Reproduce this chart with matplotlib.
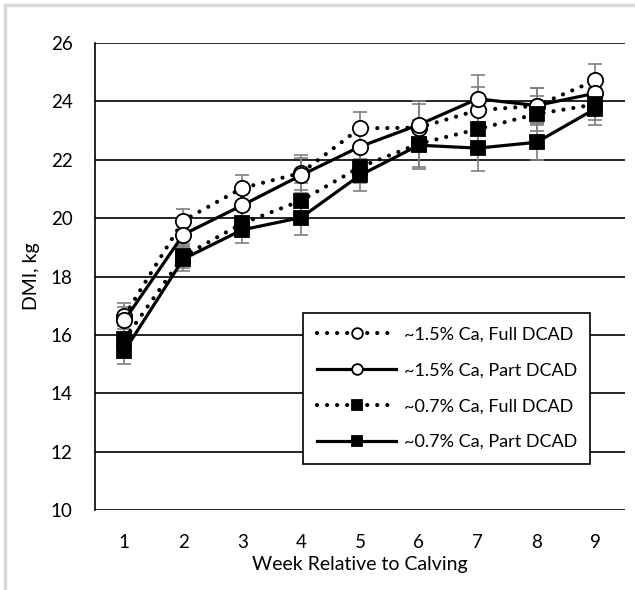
import numpy as np
import matplotlib
matplotlib.use('Agg')
import matplotlib.pyplot as plt
from matplotlib.patches import Rectangle

plt.rcParams['font.family'] = ['Lato', 'DejaVu Sans']

weeks = [1, 2, 3, 4, 5, 6, 7, 8, 9]
hi_full = [16.65, 19.92, 21.03, 21.55, 23.08, 23.1, 23.7, 23.85, 24.72]
hi_part = [16.5, 19.44, 20.44, 21.47, 22.45, 23.2, 24.09, 23.86, 24.28]
lo_full = [15.85, 18.7, 19.82, 20.6, 21.75, 22.55, 23.05, 23.57, 23.9]
lo_part = [15.45, 18.6, 19.6, 20.02, 21.47, 22.5, 22.4, 22.6, 23.75]
sem = [0.45, 0.4, 0.45, 0.6, 0.55, 0.8, 0.8, 0.6, 0.55]

labels = ['~1.5% Ca, Full DCAD', '~1.5% Ca, Part DCAD',
          '~0.7% Ca, Full DCAD', '~0.7% Ca, Part DCAD']

fig = plt.figure(figsize=(6.35, 5.9), dpi=100)
fig.patches.append(Rectangle((5 / 635, -0.02), 1.0, 1 - 5 / 590 + 0.02,
                             transform=fig.transFigure, fill=False,
                             edgecolor='#d9d9d9', linewidth=2.5))
ax = fig.add_axes([0.1496, 0.1356, 0.8344, 0.7914])

dots = (0, (0.01, 2.4))
series = [
    (hi_full, dots, 'o', 'white'),
    (hi_part, '-', 'o', 'white'),
    (lo_full, dots, 's', 'black'),
    (lo_part, '-', 's', 'black'),
]

for vals, ls, mk, fc in series:
    ax.errorbar(weeks, vals, yerr=sem, fmt='none', ecolor='#7f7f7f',
                elinewidth=1.2, capsize=5, capthick=1.2, zorder=2)

for (vals, ls, mk, fc), lab in zip(series, labels):
    ms = 11 if mk == 'o' else 9.5
    lw = 3.0 if ls == dots else 2.3
    ax.plot(weeks, vals, linestyle=ls, color='black', linewidth=lw,
            dash_capstyle='round', marker=mk, markersize=ms,
            markerfacecolor=fc, markeredgecolor='black',
            markeredgewidth=1.3, label=lab, zorder=3)

ax.set_xlim(0.5, 9.5)
ax.set_ylim(10, 26)
ax.set_yticks(np.arange(10, 27, 2))
ax.set_xticks(weeks)
ax.yaxis.grid(True, color='black', linewidth=1.2)
ax.set_axisbelow(True)
for s in ['top', 'right', 'bottom']:
    ax.spines[s].set_visible(False)
ax.spines['left'].set_linewidth(1.2)
ax.tick_params(length=0, labelsize=13.5)
ax.tick_params(axis='x', pad=17)
ax.tick_params(axis='y', pad=16)
ax.set_xlabel('Week Relative to Calving', fontsize=14, labelpad=4)
ax.set_ylabel('DMI, kg', fontsize=14, labelpad=8)

leg = ax.legend(loc='lower right', bbox_to_anchor=(0.952, 0.08),
                fontsize=13, frameon=True, fancybox=False,
                edgecolor='black', framealpha=1, markerscale=0.7,
                handlelength=4.4, borderpad=0.75, labelspacing=1.1,
                handletextpad=0.4)
leg.get_frame().set_linewidth(1.2)

fig.savefig('out.png', dpi=100)
